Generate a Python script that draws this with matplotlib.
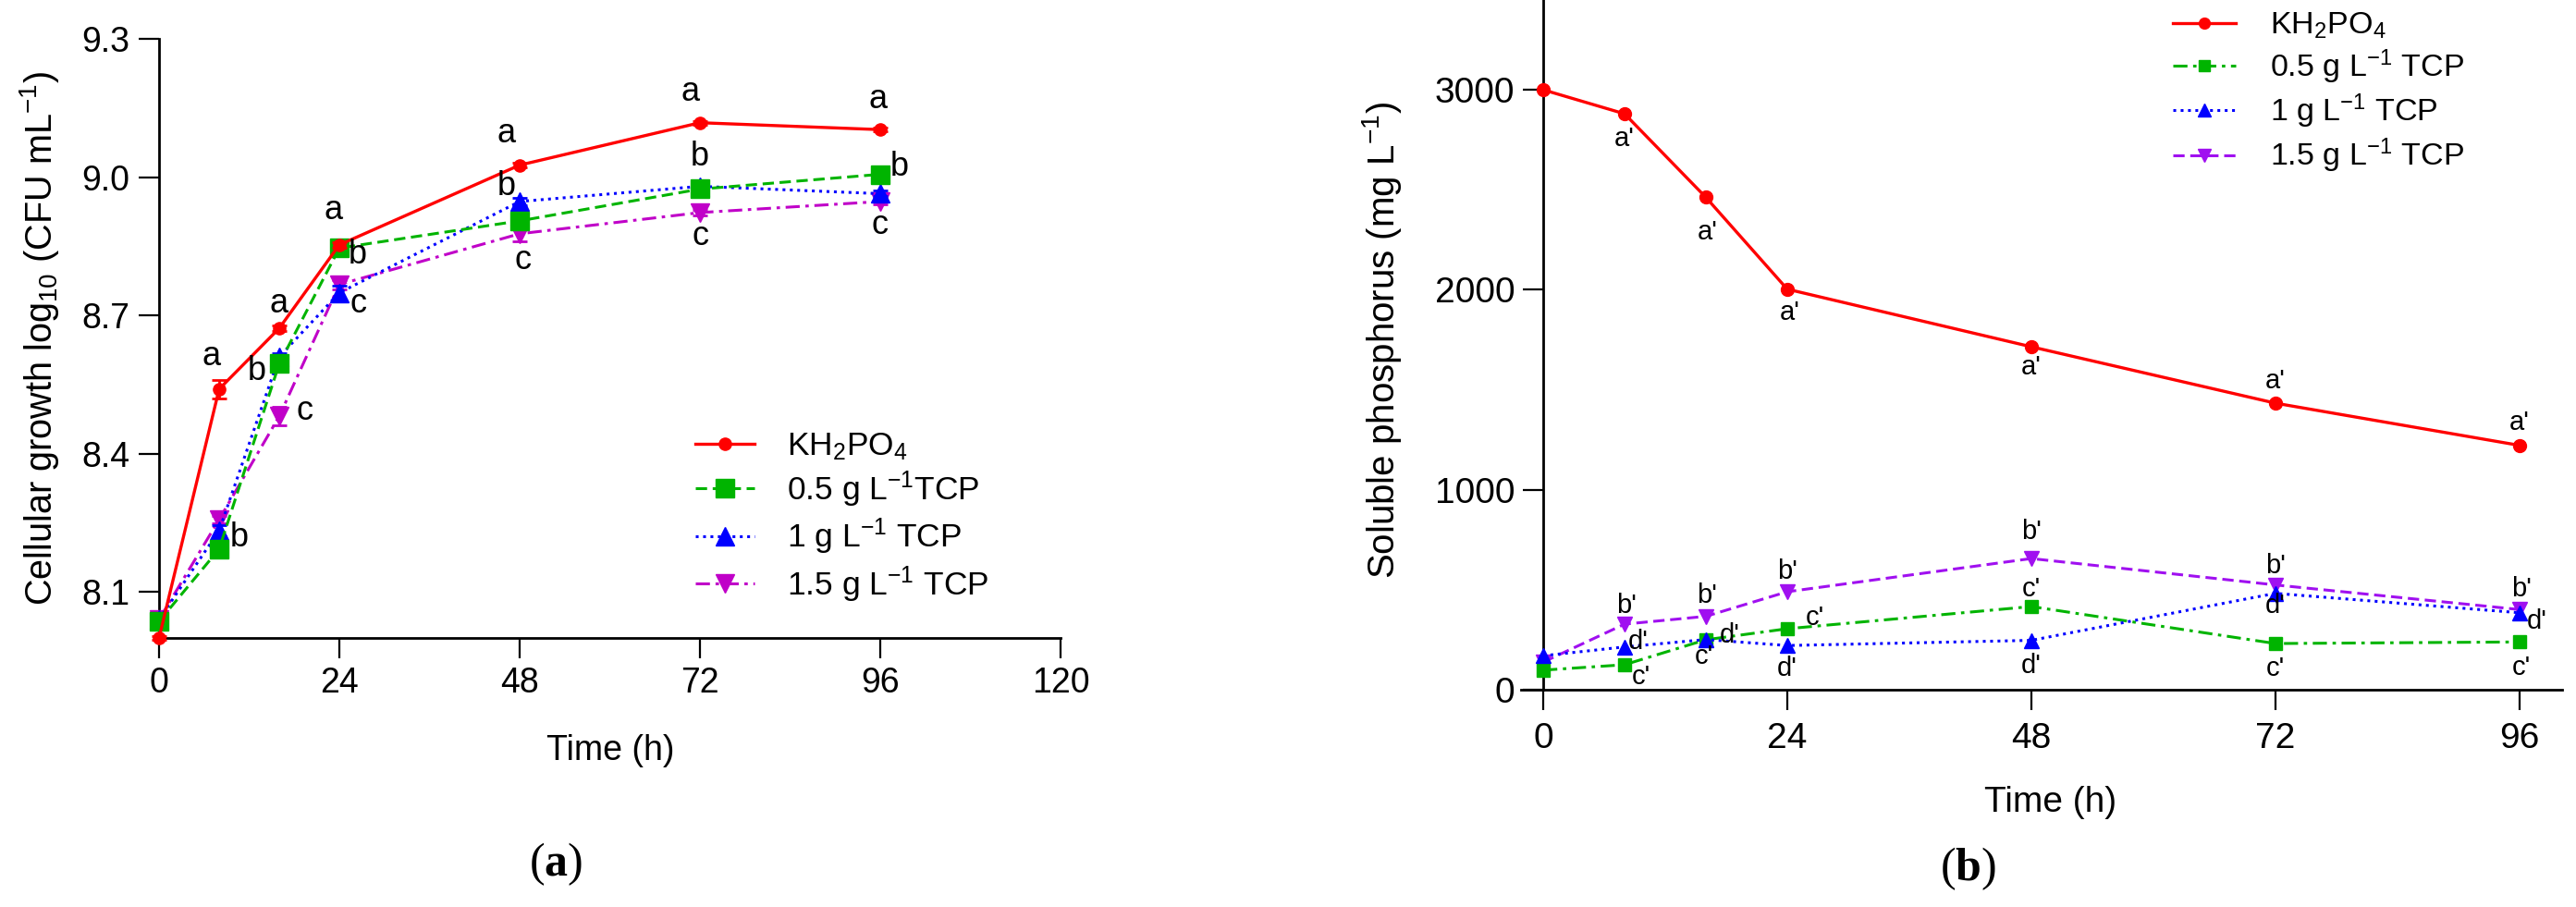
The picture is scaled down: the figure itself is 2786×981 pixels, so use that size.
import matplotlib
matplotlib.use('Agg')
import matplotlib.pyplot as plt

plt.rcParams['font.family'] = ['Liberation Sans', 'DejaVu Sans']
plt.rcParams['mathtext.fontset'] = 'custom'
plt.rcParams['mathtext.rm'] = 'Liberation Sans'
plt.rcParams['mathtext.it'] = 'Liberation Sans:italic'
plt.rcParams['mathtext.bf'] = 'Liberation Serif:bold'

# ---------------- data: panel (a) cellular growth ----------------
time_a = [0, 8, 16, 24, 48, 72, 96]
growth_kh2po4 = [8.00, 8.54, 8.672, 8.853, 9.026, 9.118, 9.103]
growth_tcp05 = [8.036, 8.193, 8.595, 8.846, 8.905, 8.974, 9.006]
growth_tcp1 = [8.04, 8.233, 8.61, 8.749, 8.947, 8.98, 8.964]
growth_tcp15 = [8.04, 8.257, 8.481, 8.767, 8.877, 8.923, 8.947]
err_kh2po4 = [0.004, 0.02, 0.006, 0.006, 0.005, 0.004, 0.004]
err_tcp05 = [0.004, 0.006, 0.008, 0.006, 0.006, 0.005, 0.005]
err_tcp1 = [0.004, 0.012, 0.008, 0.016, 0.008, 0.005, 0.006]
err_tcp15 = [0.004, 0.008, 0.02, 0.01, 0.016, 0.006, 0.006]
letters_a_kh2po4 = ['', 'a', 'a', 'a', 'a', 'a', 'a']
letters_a_tcp05 = ['', 'b', 'b', 'b', '', 'b', 'b']
letters_a_tcp1 = ['', '', '', 'c', 'b', '', '']
letters_a_tcp15 = ['', '', 'c', '', 'c', 'c', 'c']
yticks_a = [8.1, 8.4, 8.7, 9.0, 9.3]
xticks_a = [0, 24, 48, 72, 96, 120]

# ---------------- data: panel (b) soluble phosphorus ----------------
time_b = [0, 8, 16, 24, 48, 72, 96]
p_kh2po4 = [3000, 2880, 2462, 2003, 1715, 1433, 1222]
p_tcp05 = [98, 125, 250, 305, 416, 231, 239]
p_tcp1 = [170, 214, 251, 221, 247, 482, 385]
p_tcp15 = [138, 328, 367, 490, 656, 524, 401]
letters_b_kh2po4 = ['', "a'", "a'", "a'", "a'", "a'", "a'"]
letters_b_tcp05 = ['', "c'", "c'", "c'", "c'", "c'", "c'"]
letters_b_tcp1 = ['', "d'", "d'", "d'", "d'", "d'", "d'"]
letters_b_tcp15 = ['', "b'", "b'", "b'", "b'", "b'", "b'"]
yticks_b = [0, 1000, 2000, 3000]
xticks_b = [0, 24, 48, 72, 96]

labels_a = ['KH$_2$PO$_4$', '0.5 g L$^{-1}$TCP', '1 g L$^{-1}$ TCP', '1.5 g L$^{-1}$ TCP']
labels_b = ['KH$_2$PO$_4$', '0.5 g L$^{-1}$ TCP', '1 g L$^{-1}$ TCP', '1.5 g L$^{-1}$ TCP']

# ---------------- styles (pixel offsets for letter labels) ----------------
off_a_kh2po4 = [(0, 0), (-8, 35), (0, 27), (-6, 37), (-14, 34), (-10, 33), (-2, 33)]
off_a_tcp05 = [(0, 0), (22, 12), (-24, -8), (20, -7), (0, 0), (0, 35), (21, 8)]
off_a_tcp1 = [(0, 0), (0, 0), (0, 0), (20, -12), (-14, 16), (0, 0), (0, 0)]
off_a_tcp15 = [(0, 0), (0, 0), (27, 6), (0, 0), (3, -29), (0, -26), (0, -26)]

off_b_kh2po4 = [(0, 0), (0, -27), (2, -38), (3, -25), (0, -22), (0, 24), (0, 25)]
off_b_tcp05 = [(0, 0), (18, -13), (-2, -18), (30, 12), (0, 19), (0, -27), (2, -28)]
off_b_tcp1 = [(0, 0), (15, 6), (26, 5), (0, -25), (0, -27), (0, -13), (19, -9)]
off_b_tcp15 = [(0, 0), (2, 20), (1, 23), (0, 22), (0, 29), (0, 21), (2, 22)]

RED = '#ff0000'
GREEN = '#00b400'
BLUE = '#0000ff'
MAG_A = '#c000c8'
MAG_B = '#a010f0'

W, H = 2786, 981
fig = plt.figure(figsize=(W / 100, H / 100), dpi=100)


def style_axes(ax, tick_fs, xpad, ypad):
    for s in ['top', 'right']:
        ax.spines[s].set_visible(False)
    for s in ['left', 'bottom']:
        ax.spines[s].set_linewidth(2.0)
    ax.tick_params(axis='both', direction='out', length=16, width=1.6,
                   labelsize=tick_fs, colors='black')
    ax.tick_params(axis='x', pad=xpad)
    ax.tick_params(axis='y', pad=ypad)


def add_letters(ax, xs, ys, letters, offsets, fs):
    for x, y, t, (dx, dy) in zip(xs, ys, letters, offsets):
        if t:
            ax.annotate(t, (x, y), xytext=(dx, dy), textcoords='offset pixels',
                        ha='center', va='center', fontsize=fs,
                        annotation_clip=False, zorder=10)


# ---------------- panel (a) ----------------
axa = fig.add_axes([172 / W, 1 - 690 / H, 975 / W, 648 / H])
style_axes(axa, 27, 6, 7)
axa.set_xlim(0, 120)
axa.set_ylim(8.0, 9.3)
axa.set_xticks(xticks_a)
axa.set_yticks(yticks_a)
axa.set_yticklabels(['%.1f' % v for v in yticks_a])

ea15 = axa.errorbar(time_a, growth_tcp15, yerr=err_tcp15, color=MAG_A, lw=2.2,
                    ls=(0, (5, 2, 1.2, 2)), marker='v', ms=15, capsize=6,
                    elinewidth=2, capthick=2, clip_on=False, zorder=3)
ea1 = axa.errorbar(time_a, growth_tcp1, yerr=err_tcp1, color=BLUE, lw=2.2,
                   ls=(0, (1, 1.6)), marker='^', ms=15, capsize=6,
                   elinewidth=2, capthick=2, clip_on=False, zorder=4)
ea05 = axa.errorbar(time_a, growth_tcp05, yerr=err_tcp05, color=GREEN, lw=2.2,
                    ls=(0, (4, 2)), marker='s', ms=15, capsize=6,
                    elinewidth=2, capthick=2, clip_on=False, zorder=5)
eakh = axa.errorbar(time_a, growth_kh2po4, yerr=err_kh2po4, color=RED, lw=2.4,
                    ls='-', marker='o', ms=9.5, capsize=6,
                    elinewidth=2, capthick=2, clip_on=False, zorder=6)
for c in (ea15, ea1, ea05, eakh):
    for art in c.lines[1] + c.lines[2]:
        art.set_clip_on(False)

add_letters(axa, time_a, growth_kh2po4, letters_a_kh2po4, off_a_kh2po4, 26)
add_letters(axa, time_a, growth_tcp05, letters_a_tcp05, off_a_tcp05, 26)
add_letters(axa, time_a, growth_tcp1, letters_a_tcp1, off_a_tcp1, 26)
add_letters(axa, time_a, growth_tcp15, letters_a_tcp15, off_a_tcp15, 26)

axa.legend([eakh.lines[0], ea05.lines[0], ea1.lines[0], ea15.lines[0]], labels_a,
           loc='upper left', bbox_to_anchor=(752 / W, 1 - 466 / H),
           bbox_transform=fig.transFigure, frameon=False, fontsize=25.5,
           handlelength=1.8, handletextpad=1.0, labelspacing=0.22,
           borderpad=0, borderaxespad=0)

fig.text(43 / W, 1 - 366 / H, 'Cellular growth log$_{10}$ (CFU mL$^{-1}$)',
         rotation=90, ha='center', va='center', fontsize=28.5)
fig.text(660 / W, 1 - 812 / H, 'Time (h)', ha='center', va='center', fontsize=27)

# ---------------- panel (b) ----------------
axb = fig.add_axes([1645 / W, 1 - 746 / H, 1126 / W, 746 / H])
style_axes(axb, 28, 9, 6)
axb.set_xlim(-2.18, 100.2)
axb.set_ylim(0, 3449)
axb.spines['left'].set_position(('data', 0))
axb.set_xticks(xticks_b)
axb.set_yticks(yticks_b)

lb15, = axb.plot(time_b, p_tcp15, color=MAG_B, lw=2.2, ls=(0, (4, 2)),
                 marker='v', ms=12, clip_on=False, zorder=3)
lb05, = axb.plot(time_b, p_tcp05, color=GREEN, lw=2.2, ls=(0, (5, 2, 1.2, 2)),
                 marker='s', ms=10, clip_on=False, zorder=4)
lb1, = axb.plot(time_b, p_tcp1, color=BLUE, lw=2.2, ls=(0, (1, 1.6)),
                marker='^', ms=12, clip_on=False, zorder=5)
lbkh, = axb.plot(time_b, p_kh2po4, color=RED, lw=2.4, ls='-',
                 marker='o', ms=10, clip_on=False, zorder=6)

add_letters(axb, time_b, p_kh2po4, letters_b_kh2po4, off_b_kh2po4, 21)
add_letters(axb, time_b, p_tcp05, letters_b_tcp05, off_b_tcp05, 21)
add_letters(axb, time_b, p_tcp1, letters_b_tcp1, off_b_tcp1, 21)
add_letters(axb, time_b, p_tcp15, letters_b_tcp15, off_b_tcp15, 21)

axb.legend([lbkh, lb05, lb1, lb15], labels_b,
           loc='upper left', bbox_to_anchor=(2350 / W, 1 - 12 / H),
           bbox_transform=fig.transFigure, frameon=False, fontsize=24.5,
           handlelength=2.0, handletextpad=1.1, labelspacing=0.2,
           borderpad=0, borderaxespad=0, markerscale=0.85)

fig.text(1495 / W, 1 - 368 / H, 'Soluble phosphorus (mg L$^{-1}$)',
         rotation=90, ha='center', va='center', fontsize=29)
fig.text(2218 / W, 1 - 868 / H, 'Time (h)', ha='center', va='center', fontsize=28)

# ---------------- panel captions ----------------
fig.text(601 / W, 1 - 935 / H, r'($\mathbf{a}$)', family='Liberation Serif',
         ha='center', va='center', fontsize=36)
fig.text(2128 / W, 1 - 940 / H, r'($\mathbf{b}$)', family='Liberation Serif',
         ha='center', va='center', fontsize=36)

fig.savefig('out.png', dpi=100)
